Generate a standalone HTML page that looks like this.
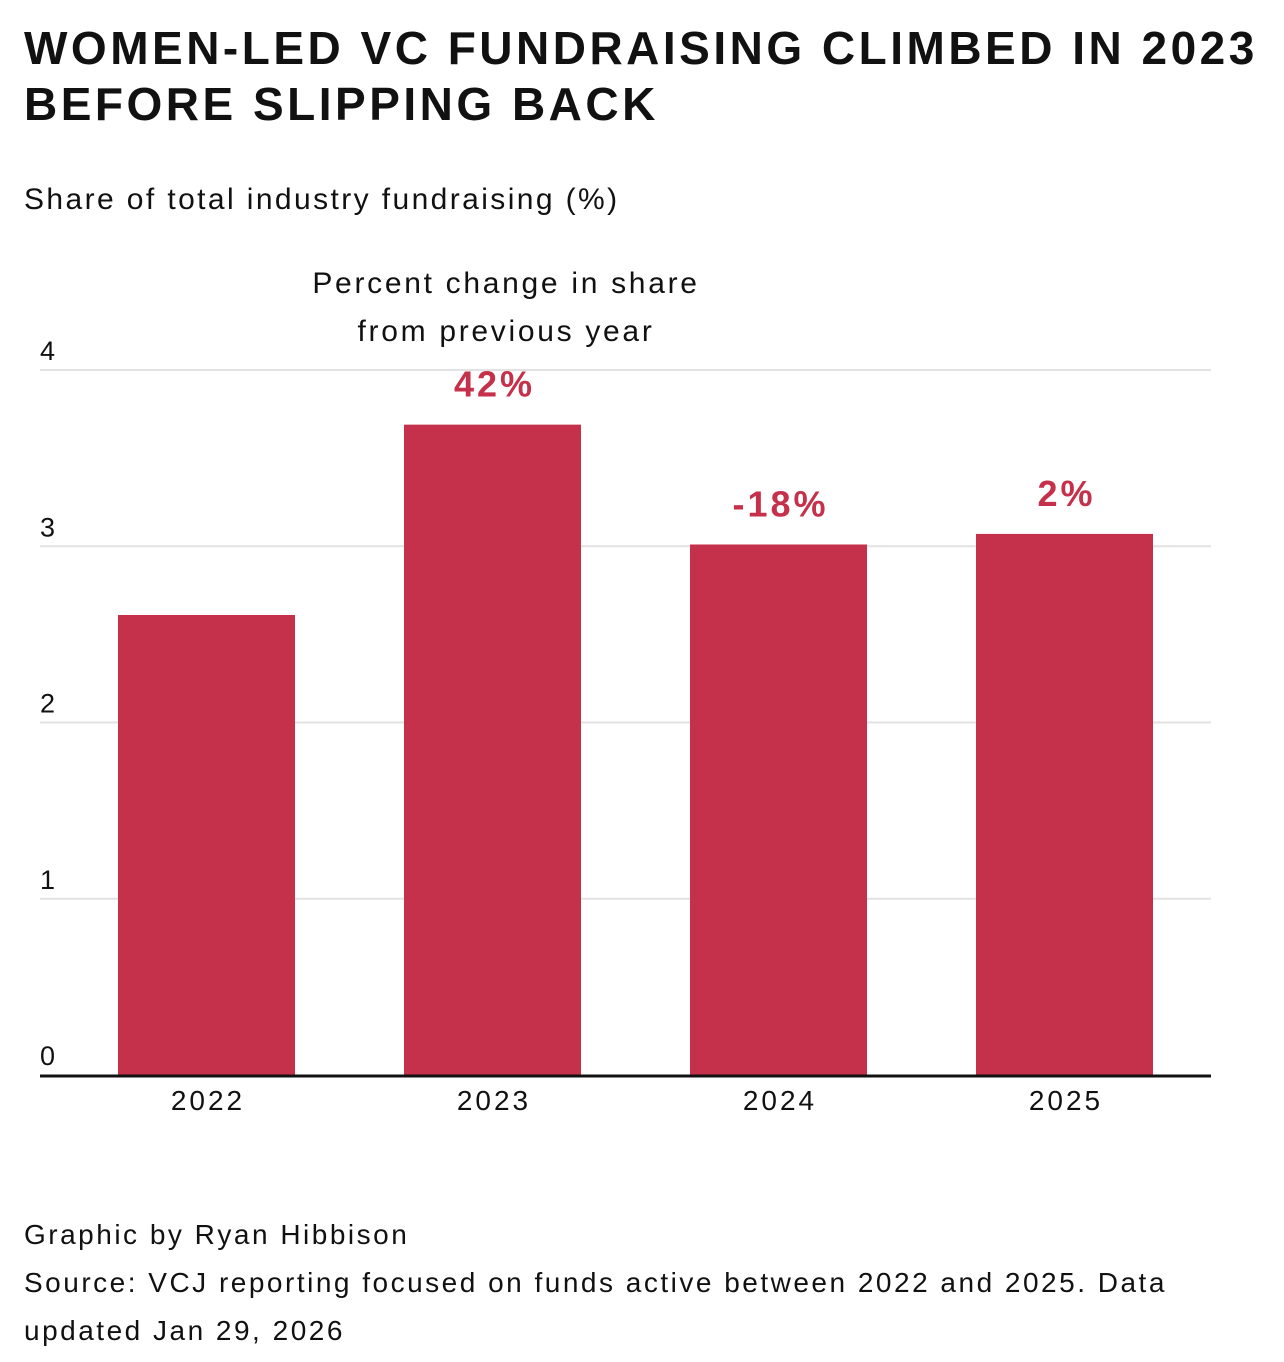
<!DOCTYPE html>
<html><head><meta charset="utf-8"><style>
body{margin:0;background:#fff;width:1284px;height:1362px;overflow:hidden;font-family:"Liberation Sans",sans-serif;color:#111}
.title{position:absolute;left:24px;top:20px;font-weight:bold;font-size:46px;line-height:56px;letter-spacing:3.5px;white-space:nowrap}
.sub{position:absolute;left:24px;top:183px;font-size:30px;letter-spacing:2.4px}
.foot{position:absolute;left:24px;top:1211px;font-size:28px;line-height:48px;letter-spacing:2.5px;white-space:nowrap}
svg{position:absolute;left:0;top:0}
</style></head><body>
<div class="title">WOMEN-LED VC FUNDRAISING CLIMBED IN 2023<br>BEFORE SLIPPING BACK</div>
<div class="sub">Share of total industry fundraising (%)</div>
<svg width="1284" height="1362" id="chart">
<text x="506" y="293" text-anchor="middle" font-size="30" letter-spacing="2.7" fill="#111">Percent change in share</text>
<text x="506" y="341" text-anchor="middle" font-size="30" letter-spacing="2.7" fill="#111">from previous year</text>
</svg>
<div class="foot">Graphic by Ryan Hibbison<br>Source: VCJ reporting focused on funds active between 2022 and 2025. Data<br>updated Jan 29, 2026</div>
<script>
const categories=["2022","2023","2024","2025"];
const values=[2.61,3.69,3.01,3.07];
const changeLabels=["","42%","-18%","2%"];
const yTicks=[0,1,2,3,4];
const svg=document.getElementById('chart');
const NS='http://www.w3.org/2000/svg';
const y=v=>1075-v*176.25;
const step=286, bw=177, x0=63.5;
const xc=i=>x0+step*(i+0.5);
function mk(t,a){const e=document.createElementNS(NS,t);for(const k in a)e.setAttribute(k,a[k]);svg.appendChild(e);return e;}
yTicks.forEach(t=>{
  if(t>0){const g=mk('line',{x1:40,x2:1211,y1:y(t),y2:y(t),stroke:'#e2e2e2','stroke-width':2});
  
  }
  const l=mk('text',{x:40,y:y(t)-10,'font-size':27,fill:'#111'});l.textContent=t;
  
  
});
categories.forEach((c,i)=>{
  const r=mk('rect',{x:xc(i)-bw/2,y:y(values[i]),width:bw,height:y(0)-y(values[i]),fill:'#c5304a'});
  
  
  const t=mk('text',{x:xc(i)+1.5,y:1110,'text-anchor':'middle','font-size':28,'letter-spacing':3,fill:'#111'});t.textContent=c;
  
  
  if(changeLabels[i]){const v=mk('text',{x:xc(i)+2,y:y(values[i])-28,'text-anchor':'middle','font-size':36,'letter-spacing':3,'font-weight':'bold',fill:'#c5304a'});v.textContent=changeLabels[i];
  
  }
});
const ax=mk('line',{x1:40,x2:1211,y1:1076,y2:1076,stroke:'#111','stroke-width':3});


</script>
</body></html>
